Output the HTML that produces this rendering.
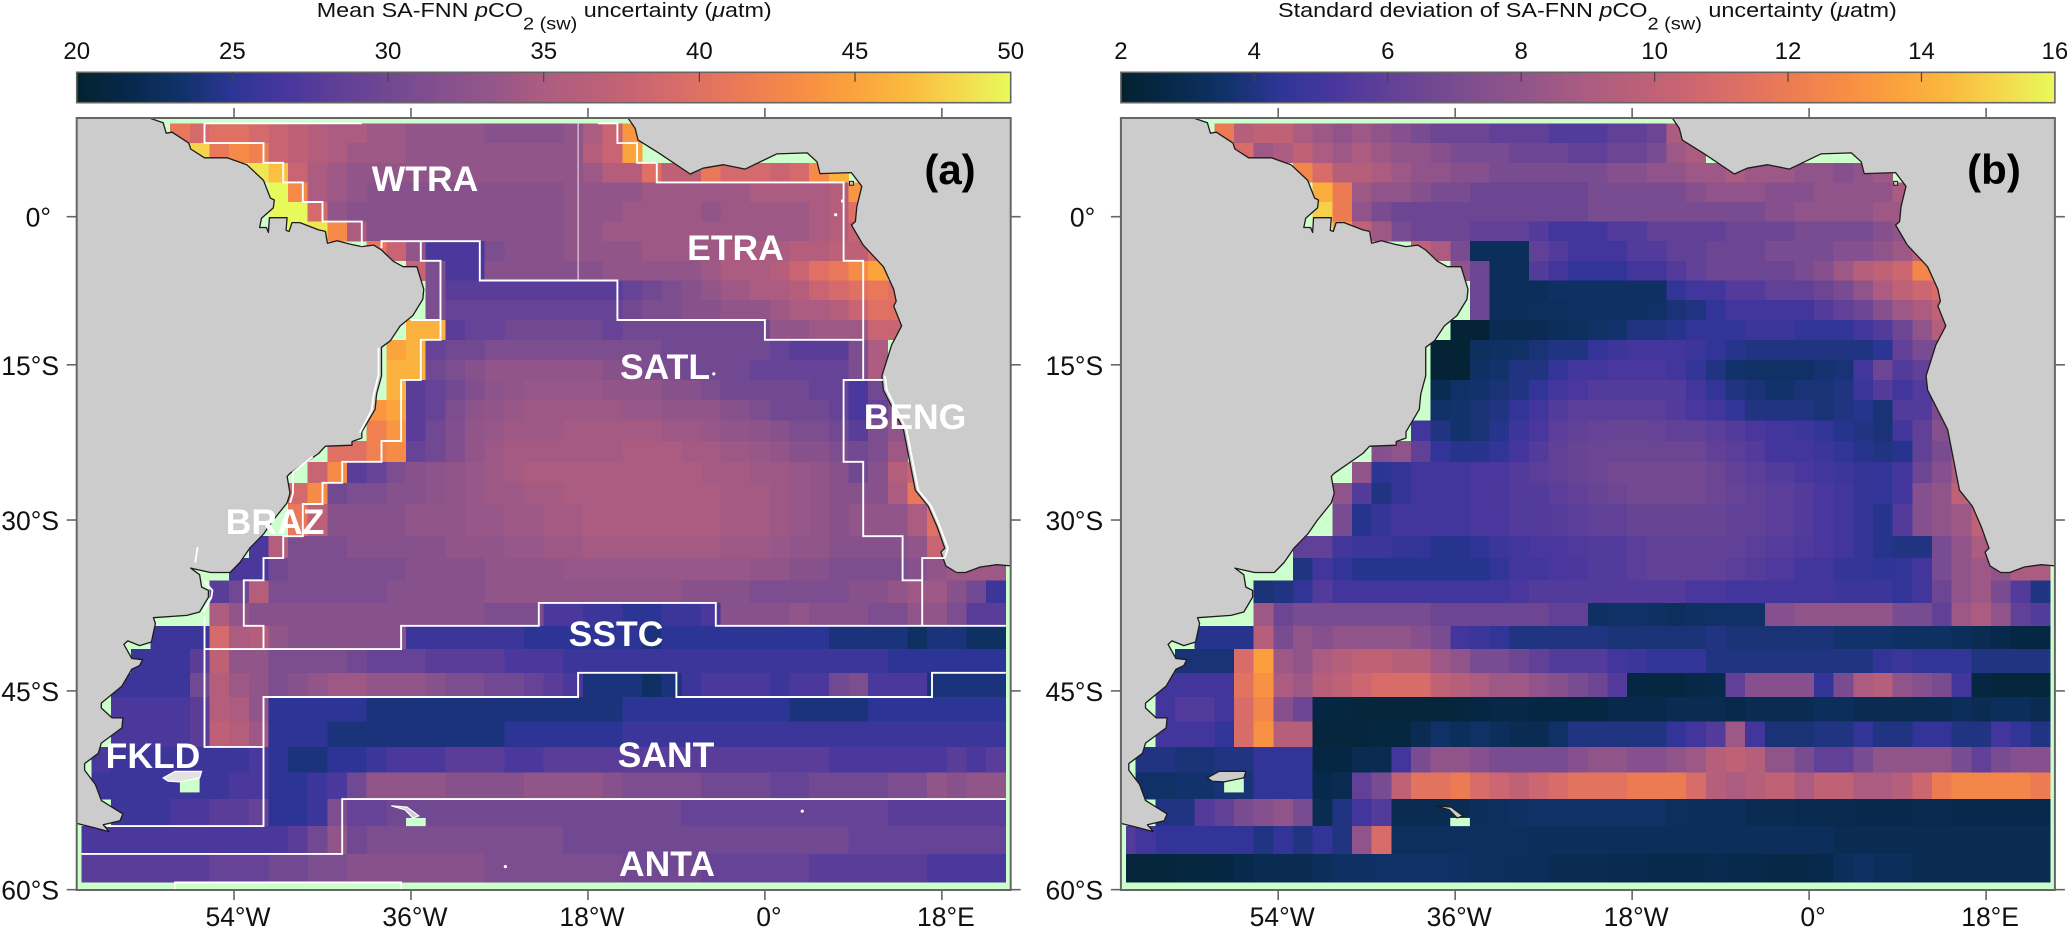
<!DOCTYPE html>
<html lang="en">
<head>
<meta charset="utf-8">
<title>SA-FNN pCO2 uncertainty maps</title>
<style>
html,body{margin:0;padding:0;background:#fff;}
svg{display:block;font-family:"Liberation Sans",Arial,sans-serif;}
.cb-title{font-size:20.5px;fill:#111;}
.region{font-size:35.5px;font-weight:bold;fill:#fff;text-anchor:middle;}
.tag{font-size:42px;font-weight:bold;fill:#000;text-anchor:middle;}
</style>
</head>
<body>
<svg id="root" width="2067" height="928" viewBox="0 0 2067 928" xmlns="http://www.w3.org/2000/svg">
  <defs>
    <clipPath id="plot-clip"><rect x="76.7" y="118" width="934" height="772"/></clipPath>
  </defs>
  <g id="panel-a" transform="translate(0,0)"></g>
  <g id="panel-b" transform="translate(1044.2,0)"></g>

  <text class="cb-title" transform="translate(316.7,17) scale(1.139,1)">Mean SA-FNN <tspan font-style="italic">p</tspan>CO<tspan font-size="17.5" dy="12.3">2 (sw)</tspan><tspan dy="-12.3"> uncertainty (</tspan><tspan font-style="italic">μ</tspan>atm)</text>
  <text class="cb-title" transform="translate(1278,17) scale(1.142,1)">Standard deviation of SA-FNN <tspan font-style="italic">p</tspan>CO<tspan font-size="17.5" dy="12.3">2 (sw)</tspan><tspan dy="-12.3"> uncertainty (</tspan><tspan font-style="italic">μ</tspan>atm)</text>

  <text class="region" x="425" y="191">WTRA</text>
  <text class="region" x="735.5" y="260">ETRA</text>
  <text class="region" x="665" y="379">SATL</text>
  <text class="region" x="915" y="429">BENG</text>
  <text class="region" x="275" y="534">BRAZ</text>
  <text class="region" x="616" y="646">SSTC</text>
  <text class="region" x="153" y="768">FKLD</text>
  <text class="region" x="666" y="767">SANT</text>
  <text class="region" x="667" y="876">ANTA</text>
  <text class="tag" x="950" y="184">(a)</text>
  <text class="tag" x="1994" y="184">(b)</text>
</svg>
<script>
const _ = null;
// Column edges (degrees longitude) and row edges (degrees latitude) of the heatmap
const lonEdges = [-69.5,-68.5,-66.5,-64.5,-62.5,-60.5,-58.5,-56.5,-54.5,-52.5,-50.5,-48.5,-46.5,-44.5,-42.5,-40.5,-38.5,-36.5,-34.5,-32.5,-30.5,-28.5,-26.5,-24.5,-22.5,-20.5,-18.5,-16.5,-14.5,-12.5,-10.5,-8.5,-6.5,-4.5,-1.5,0.5,2.5,4.5,6.5,8.5,10.5,12.5,14.5,16.5,18.5,20.5,22.5,24.5];
const latEdges = [9.5,7.5,5.5,3.5,1.5,-0.5,-2.5,-4.5,-6.5,-8.5,-10.5,-12.5,-14.5,-16.5,-18.5,-20.5,-22.5,-24.5,-26.5,-28.5,-31.5,-33.5,-35.5,-37.5,-39.5,-41.5,-43.5,-45.5,-47.5,-49.5,-51.5,-53.5,-55.5,-57.5,-59.5];

// Panel (a): mean uncertainty, one row per latitude band, one value per longitude column
const meanUncertainty = [
[_,_,_,_,_,41,39,40,40,39,38,37,36,35,35,34,34,33,33,33,33,32,32,32,32,33,35,38,44],
[_,_,_,_,_,_,48,41,43,42,38,37,36,35,34,34,34,33,33,33,33,33,33,33,33,33,36,38,45],
[_,_,_,_,_,_,_,_,_,49,47,38,35,34,33,33,33,33,33,33,33,33,33,33,33,33,34,36,36,40,37,37,41,39,39,38,39,43,46],
[_,_,_,_,_,_,_,_,_,_,50,43,35,34,33,32,32,32,32,32,32,32,32,32,32,33,33,33,33,34,34,34,34,34,35,35,35,35,36,44],
[_,_,_,_,_,_,_,_,_,_,50,50,39,33,32,32,32,32,32,32,32,32,32,32,32,33,33,33,34,34,34,34,33,34,34,34,34,35,36,40],
[_,_,_,_,_,_,_,_,_,_,_,50,49,43,35,32,32,32,32,32,32,32,32,32,32,33,33,34,34,34,34,34,34,34,34,34,34,35,36,38],
[_,_,_,_,_,_,_,_,_,_,_,_,_,_,_,41,38,33,27,27,27,31,32,32,32,33,33,33,33,34,34,34,34,35,35,35,36,36,37,37,40],
[_,_,_,_,_,_,_,_,_,_,_,_,_,_,_,_,_,38,31,27,27,32,32,32,32,32,32,33,33,33,33,33,34,35,35,36,38,40,41,43,45],
[_,_,_,_,_,_,_,_,_,_,_,_,_,_,_,_,_,_,31,28,28,28,28,28,28,28,28,28,29,30,31,32,33,34,35,35,36,38,39,40,41,40],
[_,_,_,_,_,_,_,_,_,_,_,_,_,_,_,_,_,_,31,29,29,29,29,29,29,29,29,29,30,31,31,32,32,33,33,34,35,35,36,38,40,40],
[_,_,_,_,_,_,_,_,_,_,_,_,_,_,_,_,_,46,46,28,29,29,30,30,30,30,30,29,30,30,30,30,30,30,30,33,33,34,34,34,38,38],
[_,_,_,_,_,_,_,_,_,_,_,_,_,_,_,_,45,46,29,30,30,31,31,31,31,31,31,31,31,31,30,30,30,30,30,29,28,28,28,31,35],
[_,_,_,_,_,_,_,_,_,_,_,_,_,_,_,_,46,46,30,31,32,33,33,33,33,33,33,32,32,31,31,30,30,30,29,29,29,29,29,31,35],
[_,_,_,_,_,_,_,_,_,_,_,_,_,_,_,_,46,28,29,30,31.5,32.5,33,33.5,33.5,33.5,33.5,33,33,33,32,32,31,30,30,30,30,29,29,27,30],
[_,_,_,_,_,_,_,_,_,_,_,_,_,_,_,44,45,28,29,31,32.5,33,33.5,34,34,34,34,34,33.5,33.5,33,33,33,32,31,30,30,30,29,27,29,31],
[_,_,_,_,_,_,_,_,_,_,_,_,_,_,_,42,44,28,30,31.5,33,33.5,34,34,34,34.5,34.5,34.5,34.5,34.5,34,34,33.5,33,32.5,32,31,31,30,28,31,33],
[_,_,_,_,_,_,_,_,_,_,_,_,_,40,40,42,43,29,30,31.5,33,34,34.5,34.5,34.5,34.5,34.5,34.5,35,35,35,34.5,34.5,34,33.5,33,32,32,31,30,31,34],
[_,_,_,_,_,_,_,_,_,_,_,_,38,43,28,29,31,32,32.5,33,33.5,34,34.5,35,35,35,35,35,35,35,35,35,34.5,34.5,34,34,33.5,33,32,30,32,36,38],
[_,_,_,_,_,_,_,_,_,_,_,39,43,30,31,31,32,32,32.5,33,33.5,34,34,34.5,34.5,35,35,35,35,35,35,35,35,34.5,34.5,34,33.5,33,32,32,32,35,41],
[_,_,_,_,_,_,_,_,_,_,_,41,37,32,32,32,32,33,33,33,33.5,33.5,34,34,34.5,34.5,35,35,35,35,35,35,35,34.5,34.5,34,33.5,33,32,33,33,33,35,40],
[_,_,_,_,_,_,_,_,_,27,36,31,31,31,32,32,32,32,32,33,33,33,33.5,33.5,34,34,34.5,34.5,34.5,34.5,34.5,34.5,34.5,34,34,33.5,33,33,32,32,32,32,33,38],
[_,_,_,_,_,_,_,_,27,27,30,31,31,31,31,31,31,32,32,32,32,33,33,33,33,33.5,33.5,33.5,33.5,33.5,33.5,33.5,33.5,33.5,33,33,32,32,31,31,31,31,32,33,34,34,34],
[_,_,_,_,_,_,_,28,30,36,31,31,31,31,31,31,32,32,32,32,32,33,33,33,33,33,33,33,33,33,33,32,32,32,31,31,31,31,31,32,32,33,34,34,32,30,26],
[_,_,_,_,_,_,_,35,33,32,32,32,32,32,32,32,32,32,32,32,32,31,31,31,27,27,26,26,25,25,26,26,27,32,32,32,33,32,32,32,31,31,33,33,31,28,28],
[_,_,_,_,26,26,26,39,35,36,33,32,32,32,32,32,32,26,26,26,26,26,26,25,25,25,25,25,25,24,25,25,25,25,25,25,25,25,24,24,24,24,23,24,24,23,23],
[_,_,_,26,26,26,28,37,33,33,31,31,31,31,30,29,29,29,28,28,28,28,27,27,27,26,26,26,26,26,26,26,26,26,26,26,26,26,26,26,26,25,25,25,25,25,25],
[_,_,26,26,26,26,30,36,34,33,31,32,33,34,34,33,33,33,32,31,31,30,30,29,28,27,24,24,24,23,24,26,27,27,27,26,27,27,30,31,27,27,27,24,24,24,24],
[_,_,27,27,27,27,28,36,35,33,25,25,25,25,25,24,24,24,24,24,24,24,24,24,24,24,24,24,25,25,25,25,25,25,25,25,24,24,24,24,25,25,25,25,25,25,25],
[_,_,27,27,27,27,28,37,36,34,25,25,25,24,24,24,24,24,24,24,24,24,25,25,25,25,25,25,26,26,26,26,26,26,26,26,26,26,26,26,26,26,26,26,26,26,26],
[_,27,26,26,26,26,26,26,26,27,25,24,24,25,25,26,27,27,27,28,28,28,27,27,28,28,28,28,28,28,28,28,28,28,28,28,28,28,27,27,27,27,27,27,28,27,28],
[_,26,26,26,26,26,26,26,27,27,25,25,26,27,30,33,33,33,33,32,32,32,32,33,33,33,33,32,31,31,31,31,30,30,30,29,29,30,30,30,30,31,31,33,32,33,33],
[_,_,26,26,26,27,27,28,28,29,25,25,26,31,29,29,30,30,30,30,30,30,30,30,30,30,30,30,30,30,30,29,29,29,29,29,29,29,29,29,29,28,28,28,28,28,28],
[27,27,27,27,27,27,27,27,27,27,27,28,30,33,30,31,31,31,31,31,31,31,31,31,31,30,30,30,30,30,30,30,30,30,30,30,30,30,30,29,29,29,29,29,29,29,29],
[28,28,28,28,28,28,28,29,29,29,30,30,31,31,32,32,32,32,32,32,32,31,31,31,31,31,31,31,30,30,30,30,29,29,29,29,29,28,28,28,28,28,28,27,27,27,27]
];

// Panel (b): standard deviation of the uncertainty
const sdUncertainty = [
[_,_,_,_,_,12,9.5,10,10,9,8.5,8,8.5,8,7.5,7,6.5,6.5,6.5,6,6,6,5.5,5.5,5.5,6,6,6.5,9],
[_,_,_,_,_,_,11,8.5,9,10,9,8.5,9,8.5,8,8,7.5,7,7,7,6.5,6.5,6.5,6,6,6.5,6.5,7,8.5,9],
[_,_,_,_,_,_,_,_,_,12.5,11,9.5,9.5,9,8.5,8,8,7.5,7.5,7,7,7,7,7,7,7.5,7.5,8,8,8.5,8.5,9,8.5,8.5,8,8,7.5,8,8.5],
[_,_,_,_,_,_,_,_,_,_,14,12,8.5,8,8,7.5,7,7,6.5,6.5,6.5,6.5,6.5,6.5,7,7,7,7,7,7.5,8,8,8,7.5,7.5,8,8,8,8,9],
[_,_,_,_,_,_,_,_,_,_,15,12,8,7,6.5,6.5,6.5,6.5,6.5,6.5,6.5,6.5,6.5,6.5,7,7,7,7,7,7,7,7,7,7.5,8,8,8,8,8.5,8.5],
[_,_,_,_,_,_,_,_,_,_,_,13,10,8.5,7,6.5,6.5,6.5,6,6,6,5.5,5,5,5,5.5,5.5,6,6,6,6,6.5,6.5,6.5,7,7,7,7,7.5,8],
[_,_,_,_,_,_,_,_,_,_,_,_,_,_,_,10,9,7,3.2,3.2,3.2,6,5.5,5,5,5,5.5,5.5,6,6,6.5,6.5,6.5,7,7,7,7.5,7.5,8,8.5,10],
[_,_,_,_,_,_,_,_,_,_,_,_,_,_,_,_,_,8,6.5,3.2,3.2,5.5,5,4.5,4.5,4.5,5,5,5.5,6,6.5,6.5,6.5,6.5,7,7.5,8.5,9.5,10,10.5,12.5],
[_,_,_,_,_,_,_,_,_,_,_,_,_,_,_,_,_,_,6.5,3.2,3.2,3.2,3.4,3.4,3.4,3.4,3.4,3.4,4.5,5,5,5.5,5.5,6,6,6.5,7,8,9,10,10.5,11],
[_,_,_,_,_,_,_,_,_,_,_,_,_,_,_,_,_,_,6.5,3.2,3.2,3.3,3.3,3.4,3.4,3.4,3.4,3.5,3.8,4,4.5,5,5,5,5,5.5,6,6.5,7.5,8.5,9,10],
[_,_,_,_,_,_,_,_,_,_,_,_,_,_,_,_,_,2.2,2.2,3,3,3,3.2,3.3,3.5,3.6,4,4,4.2,4.5,4.5,4.5,4.8,4.8,4.5,4.5,4.5,5,5.5,6.5,8,9.5],
[_,_,_,_,_,_,_,_,_,_,_,_,_,_,_,_,2.2,2.2,3.3,3.4,3.5,3.8,4,4,4.5,4.8,5,5,5,4.8,4.5,4.2,4,4,4,4,4,4,4.3,6,7,7],
[_,_,_,_,_,_,_,_,_,_,_,_,_,_,_,_,2.2,2.2,3.4,3.6,4,4,4.5,5,5,5.2,5.2,5.2,5,4.5,4,3.6,3.5,3.5,3.5,3.7,3.8,5,6.5,5.5,6],
[_,_,_,_,_,_,_,_,_,_,_,_,_,_,_,_,3,3.5,3.6,3.8,4,4.5,5,5.2,5.5,5.5,5.5,5.5,5.5,5,4.5,4,3.8,3.6,3.8,3.8,4,4.8,5.5,5,5.5],
[_,_,_,_,_,_,_,_,_,_,_,_,_,_,_,_,3.5,3.6,3.8,4,4.5,5,5.5,5.8,5.8,5.8,5.8,5.8,5.5,5.2,5,4.5,4,4,4,3.8,4,4.2,3.8,5.5,5.5,7],
[_,_,_,_,_,_,_,_,_,_,_,_,_,_,_,5,4,3.6,3.8,4.2,4.8,5.2,5.8,6,6.2,6.3,6.3,6.2,6,6,5.8,5.5,5.2,5,4.8,4.5,4.2,4,3.8,5,6,7.5],
[_,_,_,_,_,_,_,_,_,_,_,_,_,7.5,8,6,4.5,4.2,4.2,4.5,5,5.5,6,6.3,6.5,6.5,6.5,6.5,6.5,6.5,6,5.8,5.5,5,5,4.8,4.5,4.2,4,4.2,6,7,9],
[_,_,_,_,_,_,_,_,_,_,_,_,8,4.3,4.6,5,5,5,5.2,5.2,5.5,5.8,6,6.3,6.5,6.8,6.8,6.8,6.8,6.8,6.5,6,5.8,5.5,5.2,5,4.8,4.6,4.5,5,6.5,7.5,9],
[_,_,_,_,_,_,_,_,_,_,_,8,5.5,4,4.6,5,5,5,5.2,5.3,5.5,5.5,5.8,6,6.3,6.5,6.8,6.8,6.8,6.8,6.5,6.2,6,5.8,5.5,5.2,5,4.6,4.5,5,7.5,8,10],
[_,_,_,_,_,_,_,_,_,_,_,7,4.2,4.6,5,5,5,5,5.2,5.2,5.5,5.5,5.6,5.8,6,6,6.3,6.3,6.3,6.3,6.3,6,6,5.8,5.5,5.2,5,4.6,4.2,5.5,7.5,8,8.5,10],
[_,_,_,_,_,_,_,_,_,6,6,5,4.8,4.8,4.6,4.5,4.2,4.2,4.4,4.8,5,5.2,5.2,5.4,5.5,5.5,5.8,6,6,6,6,6,5.8,5.6,5.4,5.2,5,4.6,4.2,4,4,7,8,9],
[_,_,_,_,_,_,_,_,_,4,5,4.5,4.2,4.2,4.2,4.2,4.2,4.2,4.2,4.5,5,5,5.2,5.3,5.5,5.5,5.8,6,6,6,6,5.8,5.6,5.4,5,5,4.6,4.6,4.4,4.5,5,7,8,8.5,8,9,9],
[_,_,_,_,_,_,_,3.8,4,4.5,5.5,5,5,5,5,5,5,5,5,5,5.2,5.5,5.5,5.5,5.5,5.5,5.5,5.5,5.5,5.2,5.2,5,5,5,5,5,4.8,4.8,4.8,4.5,5,6.5,8,8.5,7,5.5,4],
[_,_,_,_,_,_,_,8.5,6.5,7,7,7,7,7,7,7,6.5,6.5,6.5,6.5,6.5,6.5,6,6,3.4,3.5,3.5,3.4,3.3,3.4,3.5,3.5,3.5,7.5,8,8,8,8,8,7,7,6,8.5,9,8,6,5.5],
[_,_,_,_,4.2,4.2,4.2,9.5,7,8,7.5,8,8,8,8,7.5,7,5,4.8,4.5,4,4,4,4,4,3.8,3.8,3.8,3.8,3.8,4,3.8,3.8,3.8,3.8,3.8,3.6,3.6,3.6,3.4,3.4,3.4,3.2,3,2.8,2.6,2.6],
[_,_,_,3.8,3.8,3.8,11,13.5,8.5,8,9,9.5,10,10,9.5,9.5,8.5,8,7,7,6.5,6,5.5,5.5,5.5,5,4.8,4.5,4.5,4.5,4,4,4,4,4,4,4,4,4.5,4.8,4.5,4.5,4.5,4,4,4,4],
[_,_,5,5,5,5,11.5,13,9,8.5,9.5,10,10.5,11,11,11,10,9.5,9,8.5,8.5,8,7.5,7,6.5,5.5,2.6,2.5,2.5,2.7,2.8,6,7.5,7.5,7.5,4.5,7,9,9.5,8,7.5,7,5,2.6,2.4,2.4,2.4],
[_,_,5,5.5,5.5,5,11,12.5,7.5,6.5,2.6,2.5,2.4,2.4,2.4,2.4,2.4,2.4,2.6,2.7,2.7,2.6,2.6,2.6,2.6,2.8,2.8,2.8,3,3,3,2.8,3,3,3,3.2,3.2,3,3,3,3,3,3.2,3,3.2,3.2,3],
[_,_,5,5,5,4.5,11,13,9.5,9.5,2.4,2.4,2.4,2.5,2.5,3,3.5,3.2,3.5,3.2,3,3,3.5,4,4,4,4,4,4.5,5,5.5,8.5,5,3.8,3.8,4,4,4.5,4,4,4.5,4.5,4,4,5,4.5,4],
[_,4,4,3.8,3.8,4,4,4.5,4.5,4.5,2.6,2.6,3,3,5,7,8,8,7.5,7,7,7,7,7.5,8,8,7.5,7.5,8,8.5,9.5,10,9.5,8,7,6,6,7,8,8,8,8,7,6,7,7.5,7.5],
[_,3.5,3.5,3.6,3.6,3.8,3.8,4.5,4.5,4.5,2.8,3,6,7,10,11.5,11.5,12,11,10.5,10,10.5,11,11.5,11.5,11.5,12,12,12,11,9.5,9,9.5,10,9,10,10,9,9,9.5,10.5,12,12.5,12.5,12.5,12.5,12],
[_,_,4,4,5.5,6,7,7.5,8,7,3,4,5,5.5,3,3,3,3,3.2,3.3,3.4,3.5,3.5,3.5,3.5,3.5,3.5,3.5,3.3,3.2,3.2,3.2,3,3,2.9,2.9,2.9,2.8,2.8,2.8,2.9,2.9,2.8,2.8,2.8,2.8,2.8],
[5.5,5,4.5,4.5,4.5,4.5,4.5,4,4.5,4,4.5,4,8,11,3.3,3.3,3.3,3.3,3.3,3.3,3.3,3.2,3.2,3.2,3.2,3.2,3.2,3.2,3.2,3.2,3.2,3.2,3.2,3.2,3.2,3.2,3,3,3,3,3,3,3,3,3,3,3],
[2.4,2.4,2.4,2.5,2.5,2.6,2.8,3,3,3,3.2,3.4,3.4,3.5,3.5,3.5,3.5,3.4,3.3,3.3,3.2,3.2,3,3,3,2.9,2.9,2.8,2.8,2.8,2.9,2.8,2.8,2.7,2.7,2.8,3.2,3.4,3.2,3.2,3,3,3,3,3,3,3]
];

// Colour bars
const meanBarTicks = [20,25,30,35,40,45,50];
const sdBarTicks = [2,4,6,8,10,12,14,16];
const thermalColors = ["#03222f","#07294a","#103268","#2c3595","#46369e","#5e3f98","#714892","#84508d","#955689","#ac5c80","#bb6078","#cd6670","#df7063","#ee7d52","#f78e44","#fba33c","#fbba3e","#f4d94d","#e8fa5b"];

// Map axes
const lonTicks = [-54,-36,-18,0,18];
const lonTickLabels = ["54°W","36°W","18°W","0°","18°E"];
const latTicks = [0,-15,-30,-45,-60];
const latTickLabels = ["0°","15°S","30°S","45°S","60°S"];

// Base map in degrees [lon, lat]
const southAmerica = [[-62.5,10],[-61.2,9.55],[-60.9,8.5],[-60.3,8.6],[-58.6,7.5],[-58.4,6.9],[-57,6],[-54.7,6],[-52.7,5.3],[-51,3.7],[-50.3,1.9],[-49.9,1.7],[-50,0.9],[-51.2,-0.15],[-51.4,-1.1],[-50.7,-1.1],[-50.5,-1.6],[-50.4,-0.1],[-48.6,-0.1],[-48.7,-1.4],[-48.4,-1.5],[-48.1,-0.6],[-47.3,-0.6],[-45.4,-1.35],[-44.7,-1.5],[-44.5,-2.7],[-43.5,-2.45],[-42.2,-2.8],[-41,-3.05],[-39.8,-2.9],[-39,-3.4],[-37.8,-4.55],[-36.8,-5.1],[-35.4,-5.1],[-34.7,-7.4],[-34.8,-8.4],[-35.8,-10.05],[-37.1,-11.1],[-38.1,-12.6],[-39,-13.25],[-39,-16.1],[-39.5,-17.9],[-39.65,-19.4],[-41,-21.6],[-41,-22.2],[-42,-22.55],[-42,-22.9],[-44.7,-23],[-45.4,-23.7],[-48.3,-25.6],[-48.6,-25.9],[-48.3,-27.5],[-48.6,-28.4],[-50,-30],[-51,-31.3],[-52.4,-32.6],[-53.4,-33.9],[-54.4,-34.8],[-56.4,-34.8],[-58.4,-34.4],[-57.5,-35],[-57.3,-36.1],[-56.6,-36.4],[-56.6,-37],[-57.5,-38.3],[-58.8,-38.6],[-62.2,-38.8],[-62,-39.3],[-62.4,-40.9],[-63.6,-41.2],[-64.8,-40.8],[-65.2,-41.1],[-64.4,-42.3],[-63.3,-42.4],[-63.6,-42.9],[-64.4,-43.2],[-65.4,-44.6],[-67.5,-46],[-67.5,-46.4],[-66.4,-47.2],[-65.3,-47.2],[-65.4,-48],[-67.5,-49.2],[-67.8,-50],[-69.2,-50.8],[-69.2,-51.3],[-68.1,-52.4],[-67.5,-53.6],[-65.3,-54.6],[-65.6,-55.1],[-67.3,-55.4],[-66.7,-55.9],[-68.3,-55.6],[-70,-55.3],[-70,10]];
const africa = [[-13.9,10],[-13.2,9],[-12.9,7.8],[-10.8,6.5],[-7.6,4.35],[-6.3,4.95],[-4.2,5.3],[-2,4.85],[1.2,6.4],[4.3,6.5],[5.3,5.6],[5.6,4.4],[8.8,4.5],[9.85,3.1],[9.35,1],[9.2,-0.5],[8.8,-0.85],[10,-2.9],[12.05,-5.1],[13.1,-7.4],[13.35,-8.6],[13.1,-9.1],[13.9,-11.1],[12.9,-13],[11.9,-16.1],[12.05,-17.5],[14.1,-21.4],[15.3,-27.2],[16.6,-28.7],[17.5,-30.6],[18.3,-32.6],[17.9,-32.95],[18.4,-34.2],[19.5,-34.8],[20.4,-34.8],[21.9,-34.3],[23.6,-34.1],[25,-34.2],[25,10]];
const falklands = [[-61.2,-51.9],[-60,-51.4],[-57.3,-51.4],[-57.5,-51.9],[-59.5,-52.2],[-60.7,-52.15]];
const southGeorgia = [[-38,-54],[-36.4,-54.1],[-35.2,-54.75],[-35.8,-54.9],[-36.6,-54.3]];
const bioko = [[8.6,3.6],[9,3.6],[9,3.2],[8.6,3.2]];
const noDataPatches = [[-59.5,-51.9,-57.5,-53],[-36.5,-54.9,-34.5,-55.5]];

// Biome boundaries (white lines on panel a), degrees [lon, lat]
const biomeLines = [
[[-41,9.5],[-57,9.5],[-57,7.5],[-51,7.5],[-51,5.5],[-49,5.5],[-49,3.5],[-47,3.5],[-47,1.5],[-45,1.5],[-45,-0.5],[-41,-0.5],[-41,-3]],
[[-39,-3.2],[-39,-2.5],[-29,-2.5],[-29,-6.5],[-15,-6.5],[-15,-10.5],[0,-10.5],[0,-12.5],[10,-12.5],[10,-4.5],[8,-4.5],[8,3.5],[-11,3.5],[-11,5.5],[-13,5.5],[-13,7.5],[-15,7.5],[-15,9.5],[-17,9.5]],
[[10,-12.5],[10,-16.5],[8,-16.5],[8,-24.5],[10,-24.5],[10,-31.5],[14,-31.5],[14,-35.5],[16,-35.5]],
[[18.3,-33.5],[16,-33.5],[16,-39.5]],
[[8,-16.5],[12,-16.5]],
[[-35,-2.5],[-35,-4.5],[-33,-4.5],[-33,-12.5],[-35,-12.5],[-35,-16.5],[-37,-16.5],[-37,-22.5],[-39,-22.5],[-39,-24.5],[-43,-24.5],[-43,-26.5],[-45,-26.5],[-45,-28.5],[-47,-28.5],[-47,-31.5],[-49,-31.5],[-49,-33.5],[-51,-33.5],[-51,-35.5],[-53,-35.5],[-53,-39.5],[-51,-39.5],[-51,-41.5]],
[[-36,-10.5],[-33,-10.5]],
[[-57,-41.5],[-37,-41.5],[-37,-39.5],[-23,-39.5],[-23,-37.5],[-5,-37.5],[-5,-39.5],[24.5,-39.5]],
[[-57,-38.7],[-57,-49.5],[-51,-49.5]],
[[-67,-55.5],[-51,-55.5],[-51,-45.5],[-19,-45.5],[-19,-43.5],[-9,-43.5],[-9,-45.5],[17,-45.5],[17,-43.5],[24.5,-43.5]],
[[-69.5,-57.5],[-43,-57.5],[-43,-53.5],[24.5,-53.5]],
[[-60,-60],[-60,-59.5],[-37,-59.5],[-37,-60]],
[[-39.3,-13.3],[-39.3,-16],[-39.8,-18],[-40,-19.5],[-41.2,-21.7]],
[[-46,-24],[-48,-25.5],[-48,-27.5],[-48.3,-28.4]],
[[-57.7,-32.5],[-57.95,-33.9]],
[[-57,-35.6],[-56.2,-36.4],[-56.3,-37],[-57.1,-38.3]],
[[12.2,-16.1],[12.4,-17.5],[14.4,-21.4],[15.6,-27.2],[16.9,-28.7],[17.8,-30.6],[18.6,-32.6],[18.3,-33.5]]
];
const faintBiomeLine = [[-19,9.5],[-19,-6.5]];
const islandDots = [[7.2,0.2],[7.9,1.6],[-5.2,-15.9],[3.8,-54.4],[-26.4,-58.4]];

const NS = "http://www.w3.org/2000/svg";
const PLOT = {left:76.7, right:1010.7, top:118, bottom:890};
const BAR = {top:72.3, bottom:102.7};
const AXIS_COLOR = "#666";

function xScale(lon){ return PLOT.left + (lon + 70) * (PLOT.right - PLOT.left) / 95; }
function yScale(lat){
  const t = Math.tan(lat * Math.PI / 360);
  return 216.7 - (1122.8 * t + 128.4 * t * t * t);
}
function pathFrom(points, close){
  let d = "";
  points.forEach(function(p, i){
    d += (i ? "L" : "M") + xScale(p[0]).toFixed(1) + " " + yScale(p[1]).toFixed(1);
  });
  return d + (close ? "Z" : "");
}
function hexRgb(h){ return [parseInt(h.slice(1,3),16),parseInt(h.slice(3,5),16),parseInt(h.slice(5,7),16)]; }
function thermal(t){
  t = Math.max(0, Math.min(1, t));
  const pos = t * (thermalColors.length - 1);
  const i = Math.min(thermalColors.length - 2, Math.floor(pos));
  const f = pos - i;
  const a = hexRgb(thermalColors[i]), b = hexRgb(thermalColors[i + 1]);
  return "rgb(" + Math.round(a[0] + (b[0]-a[0]) * f) + "," + Math.round(a[1] + (b[1]-a[1]) * f) + "," + Math.round(a[2] + (b[2]-a[2]) * f) + ")";
}
function make(tag, attrs, parent){
  const e = document.createElementNS(NS, tag);
  Object.keys(attrs).forEach(function(k){ e.setAttribute(k, attrs[k]); });
  parent.appendChild(e);
  return e;
}

function drawHeatmap(parent, values, dmin, dmax){
  const layer = make("g", {"shape-rendering":"crispEdges"}, parent);
  
  
  values.forEach(function(row, r){
    row.forEach(function(v, c){
      if (v === null || v === undefined) return;
      const x0 = xScale(lonEdges[c]), x1 = xScale(lonEdges[c + 1]);
      const y0 = yScale(latEdges[r]), y1 = yScale(latEdges[r + 1]);
      const cell = make("rect", {x:x0.toFixed(1), y:y0.toFixed(1), width:(x1 - x0 + 0.3).toFixed(1), height:(y1 - y0 + 0.3).toFixed(1), fill:thermal((v - dmin) / (dmax - dmin))}, layer);
      
      
    });
  });
}

function drawBaseMap(parent, isA){
  const layer = make("g", {"clip-path":"url(#plot-clip)"}, parent);
  
  
  noDataPatches.forEach(function(p){
    const patch = make("rect", {x:xScale(p[0]), y:yScale(p[1]), width:xScale(p[2]) - xScale(p[0]), height:yScale(p[3]) - yScale(p[1]), fill:"#ccffcc"}, layer);
    
    
  });
  const west = make("path", {d:pathFrom(southAmerica, true), fill:"#cccccc", stroke:"#1c1c1c", "stroke-width":1.3, "stroke-linejoin":"round"}, layer);
  
  
  const east = make("path", {d:pathFrom(africa, true), fill:"#cccccc", stroke:"#1c1c1c", "stroke-width":1.3, "stroke-linejoin":"round"}, layer);
  
  
  const falk = make("path", {d:pathFrom(falklands, true), fill:isA ? "#e2e2e2" : "#cccccc", stroke:isA ? "#fff" : "#1c1c1c", "stroke-width":1.2}, layer);
  
  
  const sg = make("path", {d:pathFrom(southGeorgia, true), fill:"#cccccc", stroke:isA ? "#fff" : "#1c1c1c", "stroke-width":1.2}, layer);
  
  
  const bk = make("path", {d:pathFrom(bioko, true), fill:"#cccccc", stroke:"#1c1c1c", "stroke-width":1}, layer);
  
  
}

function drawBiomes(parent){
  const layer = make("g", {"clip-path":"url(#plot-clip)", fill:"none", stroke:"#fff", "stroke-width":1.9, "stroke-linejoin":"miter"}, parent);
  
  
  biomeLines.forEach(function(line){
    const p = make("path", {d:pathFrom(line, false)}, layer);
    
    
  });
  const faint = make("path", {d:pathFrom(faintBiomeLine, false), "stroke-width":1.1, "stroke-opacity":0.8}, layer);
  
  
  islandDots.forEach(function(d){
    const dot = make("circle", {cx:xScale(d[0]), cy:yScale(d[1]), r:1.6, fill:"#fff", stroke:"none"}, layer);
    
    
  });
}

function drawAxes(parent){
  const layer = make("g", {}, parent);
  
  
  const frame = make("rect", {x:PLOT.left, y:PLOT.top, width:PLOT.right - PLOT.left, height:PLOT.bottom - PLOT.top, fill:"none", stroke:AXIS_COLOR, "stroke-width":2}, layer);
  
  
  lonTicks.forEach(function(lon, i){
    const x = xScale(lon);
    const top = make("line", {x1:x, x2:x, y1:PLOT.top, y2:PLOT.top - 10, stroke:AXIS_COLOR, "stroke-width":1.6}, layer);
    
    
    const bottom = make("line", {x1:x, x2:x, y1:PLOT.bottom, y2:PLOT.bottom + 10, stroke:AXIS_COLOR, "stroke-width":1.6}, layer);
    
    
    const label = make("text", {x:x + 4, y:926, "text-anchor":"middle", "font-size":26.5, fill:"#111"}, layer);
    label.textContent = lonTickLabels[i];
    
    
  });
  latTicks.forEach(function(lat, i){
    const y = yScale(lat);
    const left = make("line", {x1:PLOT.left, x2:PLOT.left - 10, y1:y, y2:y, stroke:AXIS_COLOR, "stroke-width":1.6}, layer);
    
    
    const right = make("line", {x1:PLOT.right, x2:PLOT.right + 10, y1:y, y2:y, stroke:AXIS_COLOR, "stroke-width":1.6}, layer);
    
    
    const label = make("text", {x:lat === 0 ? 51 : 59, y:y + 10, "text-anchor":"end", "font-size":26.5, fill:"#111"}, layer);
    label.textContent = latTickLabels[i];
    
    
  });
}

function drawColorBar(parent, ticks, id){
  const dmin = ticks[0], dmax = ticks[ticks.length - 1];
  const grad = make("linearGradient", {id:id, x1:"0", x2:"1", y1:"0", y2:"0"}, parent);
  thermalColors.forEach(function(c, i){
    make("stop", {offset:i / (thermalColors.length - 1), "stop-color":c}, grad);
  });
  const layer = make("g", {}, parent);
  
  
  const bar = make("rect", {x:PLOT.left, y:BAR.top, width:PLOT.right - PLOT.left, height:BAR.bottom - BAR.top, fill:"url(#" + id + ")", stroke:AXIS_COLOR, "stroke-width":1.6}, layer);
  
  
  ticks.forEach(function(v){
    const x = PLOT.left + (v - dmin) / (dmax - dmin) * (PLOT.right - PLOT.left);
    if (v !== dmin && v !== dmax) {
      const tick = make("line", {x1:x, x2:x, y1:BAR.top, y2:BAR.top + 9.5, stroke:"#444", "stroke-width":1.2}, layer);
      
      
    }
    const label = make("text", {x:x, y:59, "text-anchor":"middle", "font-size":24, fill:"#111"}, layer);
    label.textContent = String(v);
    
    
  });
}

function drawPanel(host, values, ticks, id, isA){
  const bg = make("rect", {x:PLOT.left, y:PLOT.top, width:PLOT.right - PLOT.left, height:PLOT.bottom - PLOT.top, fill:"#ccffcc"}, host);
  
  
  drawHeatmap(host, values, ticks[0], ticks[ticks.length - 1]);
  drawBaseMap(host, isA);
  if (isA) drawBiomes(host);
  drawAxes(host);
  drawColorBar(host, ticks, id);
}

drawPanel(document.getElementById("panel-a"), meanUncertainty, meanBarTicks, "ramp-a", true);
drawPanel(document.getElementById("panel-b"), sdUncertainty, sdBarTicks, "ramp-b", false);
</script>
</body>
</html>
